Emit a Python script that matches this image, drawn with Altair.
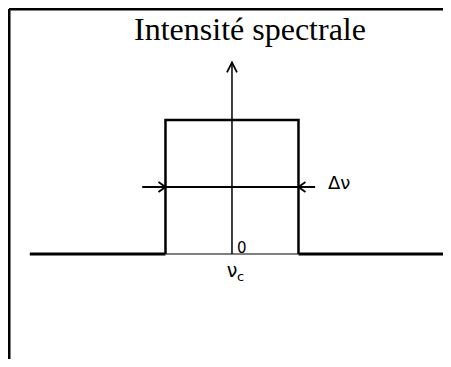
import altair as alt
import pandas as pd

# ---- coordinate frame (frequency offset in units of Δν/2, normalized intensity)
X_DOMAIN = [-3.368, 3.173]
Y_DOMAIN = [-0.7836, 1.836]
W, H = 435, 351

# ---- data
pulse_u = [-1, -1, 1, 1]
pulse_v = [0, 1, 1, 0]
base_left = [-3.04, -1]
base_mid = [-1, 1]
base_right = [1, 3.173]
axis_top = 1.43
dnu_level = 0.5
dnu_line = [-1.35, 1.25]
frame_u = -3.353
frame_v = 1.828

title_text = "Intensité spectrale"
title_pos = (0.271, 1.597)
dnu_text = "Δν"
dnu_pos = (1.444, 0.522)
zero_text = "0"
zero_pos = (0.075, 0.008)
nu_text = "ν"
nu_pos = (0.0, -0.172)
c_text = "c"
c_pos = (0.13, -0.2)

xs = alt.Scale(domain=X_DOMAIN, nice=False, zero=False)
ys = alt.Scale(domain=Y_DOMAIN, nice=False, zero=False)


def X(f):
    return alt.X(f, type="quantitative", scale=xs, axis=None)


def Y(f):
    return alt.Y(f, type="quantitative", scale=ys, axis=None)


# straight segments
segs = pd.DataFrame([
    dict(x=frame_u, x2=frame_u, y=Y_DOMAIN[0], y2=frame_v, sw=3),
    dict(x=frame_u, x2=X_DOMAIN[1], y=frame_v, y2=frame_v, sw=3),
    dict(x=base_left[0], x2=base_left[1], y=0, y2=0, sw=3),
    dict(x=base_mid[0], x2=base_mid[1], y=0, y2=0, sw=1.2),
    dict(x=base_right[0], x2=base_right[1], y=0, y2=0, sw=3),
    dict(x=0, x2=0, y=0, y2=axis_top, sw=1.5),
    dict(x=dnu_line[0], x2=dnu_line[1], y=dnu_level, y2=dnu_level, sw=2),
])
rules = alt.Chart(segs).mark_rule(color="black").encode(
    x=X("x"), x2="x2", y=Y("y"), y2="y2",
    strokeWidth=alt.StrokeWidth("sw:Q", scale=None),
)

pulse = pd.DataFrame({"u": pulse_u, "v": pulse_v, "o": range(len(pulse_u))})
pulse_line = alt.Chart(pulse).mark_line(
    color="black", strokeWidth=2.5, strokeJoin="miter"
).encode(x=X("u"), y=Y("v"), order="o:O")

heads = pd.DataFrame([
    dict(x=0, y=axis_top, shape="M-0.5,1L0,0L0.5,1", s=400),
    dict(x=-1, y=dnu_level, shape="M-1,-0.7L0,0L-1,0.7", s=196),
    dict(x=1, y=dnu_level, shape="M1,-0.7L0,0L1,0.7", s=196),
])
arrowheads = alt.Chart(heads).mark_point(
    filled=False, color="black", strokeWidth=1.8, opacity=1
).encode(
    x=X("x"), y=Y("y"),
    shape=alt.Shape("shape:N", scale=None),
    size=alt.Size("s:Q", scale=None),
)


def label(text, pos, **kw):
    df = pd.DataFrame({"x": [pos[0]], "y": [pos[1]], "t": [text]})
    return alt.Chart(df).mark_text(color="black", **kw).encode(
        x=X("x"), y=Y("y"), text="t:N"
    )


title = label(title_text, title_pos, font="Liberation Serif", fontSize=32,
              align="center", baseline="alphabetic")
dnu = label(dnu_text, dnu_pos, font="DejaVu Sans", fontSize=18,
            align="left", baseline="middle")
zero = label(zero_text, zero_pos, font="DejaVu Sans", fontSize=15,
             align="left", baseline="alphabetic")
nu = label(nu_text, nu_pos, font="DejaVu Sans", fontSize=19,
           align="center", baseline="alphabetic")
c = label(c_text, c_pos, font="DejaVu Sans", fontSize=13,
          align="center", baseline="alphabetic")

chart = alt.layer(rules, pulse_line, arrowheads, title, dnu, zero, nu, c).properties(
    width=W, height=H, padding=0, autosize="none", background="white"
).configure_view(stroke=None)

chart.save("out.html", embed_options={"renderer": "svg", "actions": False})
